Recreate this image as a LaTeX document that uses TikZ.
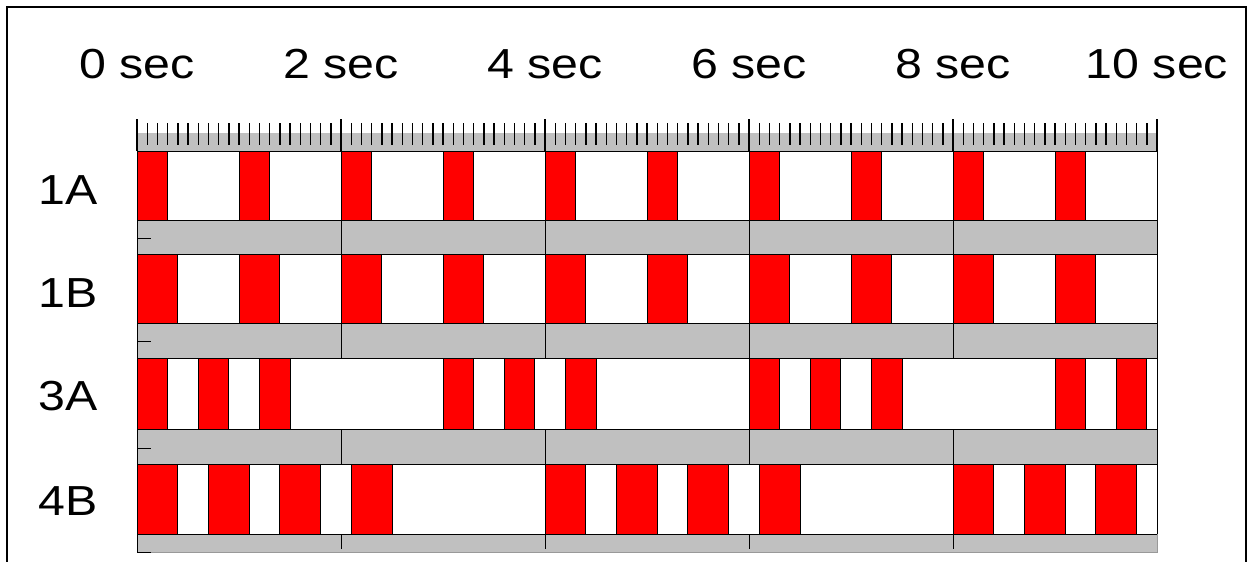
\documentclass[tikz,border=0pt]{standalone}
\usepackage{fontspec}
\setmainfont{Liberation Sans}
\definecolor{silverg}{RGB}{192,192,192}
\begin{document}
\begin{tikzpicture}[x=1pt,y=-1pt,
  lbl/.style={font=\fontsize{42}{50}\selectfont, inner sep=0pt},
  bar/.style={fill=red, draw=black, line width=0.8pt},
  rowbox/.style={draw=black, line width=0.9pt},
  tickline/.style={draw=black, line width=1.4pt}]
\useasboundingbox (0,0) rectangle (1248,562);
\fill[white] (0,0) rectangle (1248,562);
% outer frame
\draw[line width=1.4pt] (7,580) -- (7,7) -- (1246,7) -- (1246,580);
% time labels
\foreach \i/\t in {0/0,1/2,2/4,3/6,4/8,5/10}
  \node[lbl, anchor=base] (time\i) at ({137+204*\i},78) {\scalebox{1.15}[1]{\t\ sec}};
% ruler
\fill[silverg] (137,133) rectangle (1157,151);
\foreach \k in {0,...,100}
  \draw[tickline] ({137+10.2*\k},123) -- ({137+10.2*\k},145);
\foreach \k in {0,...,5}
  \draw[tickline] ({137+204*\k},119) -- ({137+204*\k},151);
% rows: top, bottom, band bottom
\foreach \top/\bot/\bb in {151/220/254, 254/323/358, 358/429/464, 464/534/552}{
  \fill[white] (137,\top) rectangle (1157,\bot);
  \fill[silverg] (137,\bot) rectangle (1157,\bb);
}
% red bars
\foreach \s in {0,...,9}
  \draw[bar] ({137+102*\s},151) rectangle ({137+102*(\s+0.3)},220);
\foreach \s in {0,...,9}
  \draw[bar] ({137+102*\s},254) rectangle ({137+102*(\s+0.4)},323);
\foreach \s in {0,0.6,1.2,3,3.6,4.2,6,6.6,7.2,9,9.6}
  \draw[bar] ({137+102*\s},358) rectangle ({137+102*(\s+0.3)},429);
\foreach \s in {0,0.7,1.4,2.1,4,4.7,5.4,6.1,8,8.7,9.4}
  \draw[bar] ({137+102*\s},464) rectangle ({137+102*(\s+0.4)},534);
% row borders
\foreach \top/\bot/\bb/\mid in {151/220/254/238, 254/323/358/341, 358/429/464/448}{
  \draw[rowbox] (137,\top) rectangle (1157,\bot);
  \draw[rowbox] (137,\bot) -- (137,\bb) (1157,\bot) -- (1157,\bb);
  \foreach \k in {1,...,4}
    \draw[rowbox] ({137+204*\k},\bot) -- ({137+204*\k},\bb);
  \draw[rowbox] (137,\mid) -- (151,\mid);
}
\draw[rowbox] (137,464) rectangle (1157,534);
\draw[draw=black!40, line width=0.9pt] (137,552) -- (1157,552) -- (1157,534);
\draw[rowbox] (137,534) -- (137,553);
\foreach \k in {1,...,4}
  \draw[rowbox] ({137+204*\k},534) -- ({137+204*\k},549);
\draw[rowbox] (137,552) -- (151,552);
% row labels
\node[lbl, anchor=base east] (l1a) at (98,204) {\scalebox{1.15}[1]{1A}};
\node[lbl, anchor=base east] (l1b) at (98,307) {\scalebox{1.15}[1]{1B}};
\node[lbl, anchor=base east] (l3a) at (98,410) {\scalebox{1.15}[1]{3A}};
\node[lbl, anchor=base east] (l4b) at (98,515) {\scalebox{1.15}[1]{4B}};
\end{tikzpicture}
\end{document}
